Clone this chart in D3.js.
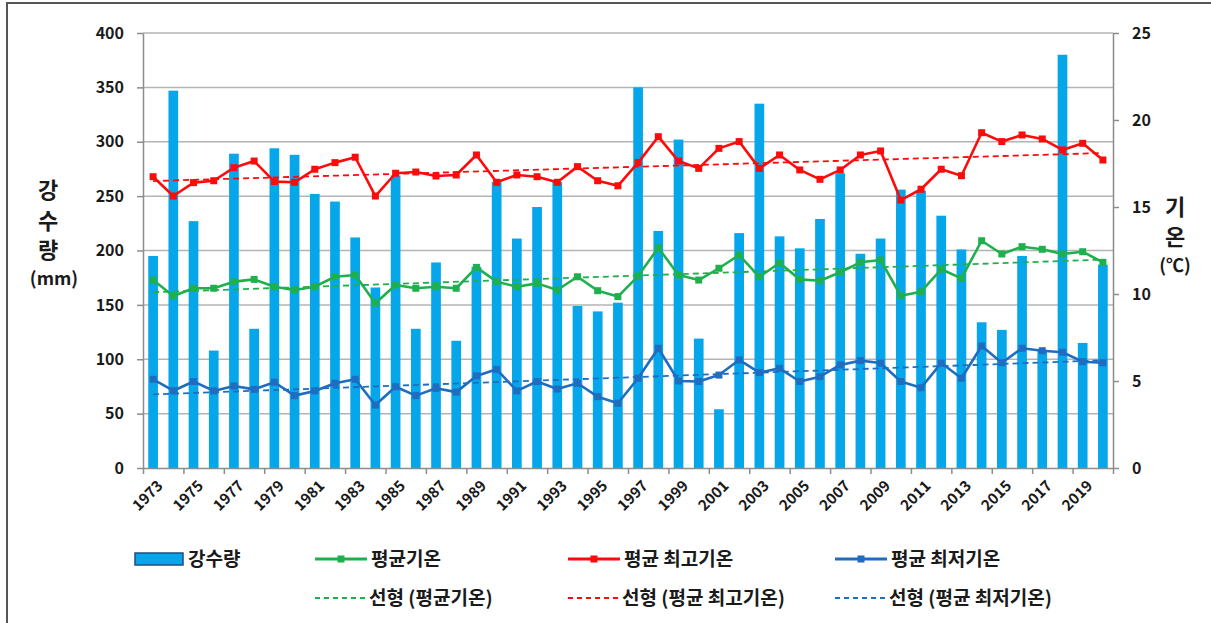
<!DOCTYPE html>
<html>
<head>
<meta charset="utf-8">
<script src="https://cdn.jsdelivr.net/npm/d3@7/dist/d3.min.js"></script>
<style>
  body { margin: 0; background: #fff; }
  svg text { font-family: "Noto Sans CJK KR", "Noto Sans", sans-serif; font-weight: bold; fill: #1a1a1a; }
</style>
</head>
<body>
<div id="chart"></div>
<script>
// data
const years = [1973, 1974, 1975, 1976, 1977, 1978, 1979, 1980, 1981, 1982,
  1983, 1984, 1985, 1986, 1987, 1988, 1989, 1990, 1991, 1992,
  1993, 1994, 1995, 1996, 1997, 1998, 1999, 2000, 2001, 2002,
  2003, 2004, 2005, 2006, 2007, 2008, 2009, 2010, 2011, 2012,
  2013, 2014, 2015, 2016, 2017, 2018, 2019, 2020];
// 강수량 (mm)
const rain = [195, 347, 227, 108, 289, 128, 294, 288, 252, 245,
  212, 166, 269, 128, 189, 117, 185, 263, 211, 240,
  263, 149, 144, 152, 350, 218, 302, 119, 54, 216,
  335, 213, 202, 229, 271, 197, 211, 256, 255, 232,
  201, 134, 127, 195, 108, 380, 115, 187];
// 평균기온
const tMean = [10.80, 9.89, 10.33, 10.33, 10.71, 10.84, 10.42, 10.23, 10.42, 10.99,
  11.09, 9.47, 10.52, 10.33, 10.42, 10.33, 11.53, 10.71, 10.42, 10.61,
  10.23, 10.99, 10.19, 9.85, 11.03, 12.66, 11.09, 10.80, 11.48, 12.24,
  10.99, 11.78, 10.84, 10.76, 11.25, 11.82, 11.95, 9.90, 10.13, 11.42,
  10.90, 13.06, 12.30, 12.72, 12.57, 12.30, 12.43, 11.82];
// 평균 최고기온
const tMax = [16.74, 15.63, 16.40, 16.51, 17.26, 17.64, 16.46, 16.42, 17.17, 17.55,
  17.86, 15.63, 16.94, 17.01, 16.78, 16.84, 17.99, 16.42, 16.84, 16.74,
  16.42, 17.32, 16.51, 16.22, 17.55, 19.04, 17.64, 17.22, 18.37, 18.76,
  17.22, 17.99, 17.13, 16.59, 17.13, 17.99, 18.22, 15.40, 16.02, 17.17,
  16.80, 19.27, 18.76, 19.14, 18.91, 18.28, 18.66, 17.70];
// 평균 최저기온
const tMin = [5.10, 4.44, 4.97, 4.43, 4.71, 4.52, 4.93, 4.16, 4.43, 4.87,
  5.10, 3.62, 4.67, 4.16, 4.58, 4.36, 5.29, 5.67, 4.43, 4.97,
  4.54, 4.87, 4.10, 3.72, 5.16, 6.88, 5.00, 4.97, 5.34, 6.21,
  5.48, 5.73, 4.97, 5.25, 5.92, 6.17, 6.03, 4.97, 4.61, 6.03,
  5.16, 7.01, 6.05, 6.88, 6.74, 6.65, 6.11, 6.05];

const rainTicks = [0, 50, 100, 150, 200, 250, 300, 350, 400];
const tempTicks = [0, 5, 10, 15, 20, 25];

(function () {

  // chart settings
  const svg_width = 1211;
  const svg_height = 623;
  const margin = { top: 33, right: 98, bottom: 155, left: 143 },
    width = svg_width - margin.left - margin.right,
    height = svg_height - margin.top - margin.bottom;

  const colors = {
    rain: "#06a7ea", rainStroke: "#1d4f80",
    mean: "#1fb04e", max: "#ff0a0a", min: "#1f6cc0",
    grid: "#b4b4b4", axis: "#8c8c8c"
  };

  const series = [
    { name: "평균기온", values: tMean, color: colors.mean },
    { name: "평균 최고기온", values: tMax, color: colors.max },
    { name: "평균 최저기온", values: tMin, color: colors.min }
  ];

  // scales
  const x = d3.scaleBand().domain(years).range([0, width]).padding(0);
  const xIdx = d3.scaleLinear().domain([0, years.length]).range([0, width]);
  const yL = d3.scaleLinear().domain([0, 400]).range([height, 0]);
  const yR = d3.scaleLinear().domain([0, 25]).range([height, 0]);
  const cx = d => x(d) + x.bandwidth() / 2;
  const barW = x.bandwidth() * 0.48;

  const root = d3.select("#chart").append("svg")
    .attr("width", svg_width)
    .attr("height", svg_height);

  // frame (left and top edges are visible)
  root.append("path")
    .attr("d", "M7,623 V3 H1211")
    .attr("fill", "none")
    .attr("stroke", "#555")
    .attr("stroke-width", 2);

  const svg = root.append("g")
    .attr("transform", "translate(" + margin.left + "," + margin.top + ")");

  // gridlines
  svg.selectAll(".grid")
    .data(rainTicks.filter(d => d > 0))
    .enter().append("line")
    .attr("class", "grid")
    .attr("x1", 0).attr("x2", width)
    .attr("y1", d => yL(d)).attr("y2", d => yL(d))
    .attr("stroke", colors.grid)
    .attr("stroke-width", 1.5);

  // bars
  svg.selectAll(".bar")
    .data(years)
    .enter().append("rect")
    .attr("class", "bar")
    .attr("x", d => cx(d) - barW / 2)
    .attr("y", (d, i) => yL(rain[i]))
    .attr("width", barW)
    .attr("height", (d, i) => height - yL(rain[i]))
    .attr("fill", colors.rain);

  // least squares trend (Excel "선형")
  function trend(vals) {
    const n = vals.length;
    const mx = d3.mean(vals, (v, i) => i);
    const my = d3.mean(vals);
    let sxy = 0, sxx = 0;
    vals.forEach((v, i) => { sxy += (i - mx) * (v - my); sxx += (i - mx) * (i - mx); });
    const b = sxy / sxx;
    const a = my - b * mx;
    return [a, a + b * (n - 1)];
  }

  const line = d3.line()
    .x((d, i) => cx(years[i]))
    .y(d => yR(d));

  series.forEach(s => {
    const t = trend(s.values);
    svg.append("line")
      .attr("x1", cx(years[0])).attr("x2", cx(years[years.length - 1]))
      .attr("y1", yR(t[0])).attr("y2", yR(t[1]))
      .attr("stroke", s.color)
      .attr("stroke-width", 1.8)
      .attr("stroke-dasharray", "6,4");
  });

  series.forEach(s => {
    svg.append("path")
      .datum(s.values)
      .attr("fill", "none")
      .attr("stroke", s.color)
      .attr("stroke-width", 2.6)
      .attr("stroke-linejoin", "round")
      .attr("d", line);
    svg.selectAll(null)
      .data(s.values)
      .enter().append("rect")
      .attr("x", (d, i) => cx(years[i]) - 3.5)
      .attr("y", d => yR(d) - 3.5)
      .attr("width", 7).attr("height", 7)
      .attr("fill", s.color);
  });

  // left axis
  const axL = svg.append("g")
    .call(d3.axisLeft(yL).tickValues(rainTicks).tickSize(6).tickPadding(13).tickSizeOuter(0));
  axL.select(".domain").attr("stroke", colors.axis).attr("stroke-width", 1.5);
  axL.selectAll(".tick line").attr("stroke", colors.axis).attr("stroke-width", 1.5);
  axL.selectAll("text").style("font-size", "16px");

  // right axis
  const axR = svg.append("g")
    .attr("transform", "translate(" + width + ",0)")
    .call(d3.axisRight(yR).tickValues(tempTicks).tickSize(6).tickPadding(13).tickSizeOuter(0));
  axR.select(".domain").attr("stroke", colors.axis).attr("stroke-width", 1.5);
  axR.selectAll(".tick line").attr("stroke", colors.axis).attr("stroke-width", 1.5);
  axR.selectAll("text").style("font-size", "16px");

  // x axis: ticks between every second category
  const axX = svg.append("g")
    .attr("transform", "translate(0," + height + ")")
    .call(d3.axisBottom(xIdx).tickValues(d3.range(0, years.length + 1, 2)).tickSize(6).tickFormat("").tickSizeOuter(0));
  axX.select(".domain").attr("stroke", colors.axis).attr("stroke-width", 1.5);
  axX.selectAll(".tick line").attr("stroke", colors.axis).attr("stroke-width", 1.5);

  svg.selectAll(".xlab")
    .data(years.filter((d, i) => i % 2 === 0))
    .enter().append("text")
    .attr("class", "xlab")
    .attr("transform", d => "translate(" + (cx(d) + 7) + "," + (height + 15) + ") rotate(-45)")
    .attr("text-anchor", "end")
    .attr("dy", "0.35em")
    .style("font-size", "15px")
    .text(d => d);

  // axis titles
  const leftTitle = [["강", 190], ["수", 221], ["량", 250], ["(mm)", 279]];
  root.selectAll(".ltitle")
    .data(leftTitle)
    .enter().append("text")
    .attr("x", d => d[0] === "(mm)" ? 54 : 48)
    .attr("y", d => d[1])
    .attr("dy", "0.35em")
    .attr("text-anchor", "middle")
    .style("font-size", d => d[0] === "(mm)" ? "18px" : "22px")
    .text(d => d[0]);

  const rightTitle = [["기", 207], ["온", 237], ["(℃)", 266]];
  root.selectAll(".rtitle")
    .data(rightTitle)
    .enter().append("text")
    .attr("x", 1175)
    .attr("y", d => d[1])
    .attr("dy", "0.35em")
    .attr("text-anchor", "middle")
    .style("font-size", d => d[0] === "(℃)" ? "18px" : "22px")
    .text(d => d[0]);

  // legend
  const legend = root.append("g");
  legend.append("rect")
    .attr("x", 135).attr("y", 553)
    .attr("width", 48).attr("height", 12)
    .attr("fill", colors.rain)
    .attr("stroke", colors.rainStroke)
    .attr("stroke-width", 1.5);
  legend.append("text")
    .attr("x", 188).attr("y", 559).attr("dy", "0.35em")
    .style("font-size", "19px")
    .text("강수량");

  const legendX = [315, 568, 835];
  series.forEach((s, i) => {
    const lx = legendX[i];
    legend.append("line")
      .attr("x1", lx).attr("x2", lx + 52)
      .attr("y1", 559).attr("y2", 559)
      .attr("stroke", s.color).attr("stroke-width", 3);
    legend.append("rect")
      .attr("x", lx + 22.5).attr("y", 555.5)
      .attr("width", 7).attr("height", 7)
      .attr("fill", s.color);
    legend.append("text")
      .attr("x", lx + 56).attr("y", 559).attr("dy", "0.35em")
      .style("font-size", "19px")
      .text(s.name);

    legend.append("line")
      .attr("x1", lx).attr("x2", lx + 50)
      .attr("y1", 598).attr("y2", 598)
      .attr("stroke", s.color).attr("stroke-width", 2)
      .attr("stroke-dasharray", "5,4");
    legend.append("text")
      .attr("x", lx + 54).attr("y", 598).attr("dy", "0.35em")
      .style("font-size", "19px")
      .text("선형 (" + s.name + ")");
  });

})();
</script>
</body>
</html>
